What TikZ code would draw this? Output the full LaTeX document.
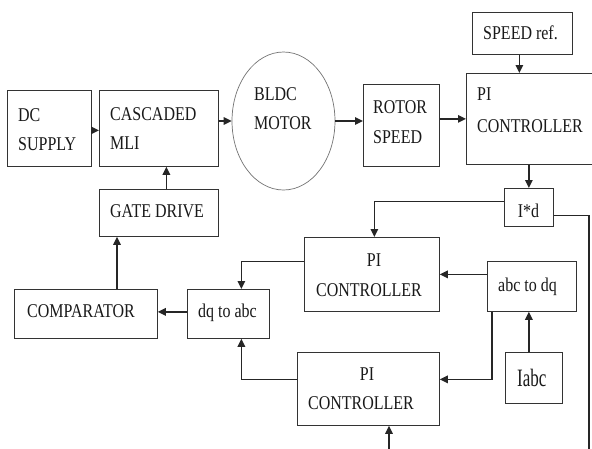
\documentclass[tikz,border=0pt]{standalone}
\usepackage{fontspec}
\setmainfont[FakeStretch=0.82]{Liberation Serif}
\newfontfamily\iabcfont[FakeStretch=0.68]{Liberation Serif}
\usetikzlibrary{arrows.meta,calc,shapes.geometric}
\begin{document}
\begin{tikzpicture}[x=1pt,y=-1pt,
  box/.style={draw=black!80,line width=0.8pt,anchor=north west,inner sep=0pt,fill=none},
  txt/.style={anchor=base west,inner sep=0pt,text=black!90,font=\fontsize{19.5}{24}\selectfont},
  ctxt/.style={anchor=base,inner sep=0pt,text=black!90,font=\fontsize{19.5}{24}\selectfont},
  arr/.style={draw=black!85,line width=1.3pt,-{Triangle[length=8pt,width=7.5pt]}},
  wire/.style={draw=black!85,line width=1.3pt}]
\useasboundingbox (0,0) rectangle (592,448);
\fill[white] (0,0) rectangle (592,448);
% boxes
\node[box,minimum width=84pt,minimum height=76pt] (dc) at (7,90) {};
\node[box,minimum width=119pt,minimum height=76pt] (mli) at (99,90) {};
\node[box,minimum width=119pt,minimum height=47pt] (gate) at (99,189) {};
\node[box,minimum width=143pt,minimum height=49pt] (comp) at (14,289) {};
\node[box,minimum width=82pt,minimum height=49pt] (dq) at (187,289) {};
\node[box,minimum width=135pt,minimum height=74pt] (pi2) at (304,237) {};
\node[box,minimum width=142pt,minimum height=73pt] (pi3) at (297,352) {};
\node[box,minimum width=89pt,minimum height=50pt] (abc) at (487,261) {};
\node[box,minimum width=57pt,minimum height=51pt] (iabc) at (505,352) {};
\node[box,minimum width=76pt,minimum height=82pt] (rotor) at (363,84) {};
\node[box,minimum width=130pt,minimum height=91pt] (pi1) at (466,73) {};
\node[box,minimum width=100pt,minimum height=42pt] (speed) at (472,12) {};
\node[box,minimum width=49pt,minimum height=38pt] (id) at (504,188) {};
\node[draw=black!55,line width=0.7pt,ellipse,minimum width=103pt,minimum height=138pt,inner sep=0pt] (motor) at (283.5,121) {};
% texts
\node[txt] (t1) at (18,121) {DC};
\node[txt] (t2) at (18,150) {SUPPLY};
\node[txt] (t3) at (110,120) {CASCADED};
\node[txt] (t4) at (110,149) {MLI};
\node[txt] (t5) at (254,100) {BLDC};
\node[txt] (t6) at (254,129) {MOTOR};
\node[txt] (t7) at (373,113) {ROTOR};
\node[txt] (t8) at (373,143) {SPEED};
\node[txt] (t9) at (477,100) {PI};
\node[txt] (t10) at (477,132) {CONTROLLER};
\node[txt] (t11) at (483,39) {SPEED ref.};
\node[ctxt] (t12) at (528.5,217) {I*d};
\node[ctxt] (t13) at (374,266) {PI};
\node[ctxt] (t14) at (369,296) {CONTROLLER};
\node[ctxt] (t15) at (367,380) {PI};
\node[ctxt] (t16) at (361,409) {CONTROLLER};
\node[txt] (t17) at (498,291) {abc to dq};
\node[txt,font=\iabcfont\fontsize{25}{30}\selectfont] (t18) at (517,386) {Iabc};
\node[txt] (t19) at (27,317) {COMPARATOR};
\node[txt] (t20) at (198,317) {dq to abc};
\node[txt] (t21) at (110,217) {GATE DRIVE};
% free ends
\coordinate (br) at (589,450);
\coordinate (bp) at (389,450);
% connectors
\draw[arr] ([yshift=-2pt]dc.east) -- ([yshift=-2pt]mli.west);
\draw[arr] (mli.east |- motor.west) -- (motor.west);
\draw[arr] (motor.east) -- (rotor.west |- motor.east);
\draw[arr] (rotor.east |- pi1.west) -- (pi1.west);
\draw[arr] ([xshift=-3pt]speed.south) -- ([xshift=-3pt]speed.south |- pi1.north);
\draw[arr] (id.north |- pi1.south) -- (id.north);
\draw[arr] ([yshift=6pt]id.west) -| ([xshift=2.5pt]pi2.north);
\draw[wire] ([yshift=-8pt]id.east) -| (br);
\draw[arr] (bp) -- (bp |- pi3.south);
\draw[arr] (abc.west |- pi2.east) -- (pi2.east);
\draw[arr] ([xshift=-5pt]iabc.north) -- ([xshift=-5pt]iabc.north |- abc.south);
\draw[arr] ([xshift=5pt]abc.south west) |- ([yshift=9.5pt]pi3.east);
\draw[arr] ([yshift=13pt]pi2.west) -| ([xshift=13pt]dq.north);
\draw[arr] ([yshift=9.5pt]pi3.west) -| ([xshift=13pt]dq.south);
\draw[arr] ([yshift=2pt]dq.west) -- ([yshift=2pt]comp.east);
\draw[arr] ([xshift=18pt]gate.south west |- comp.north) -- ([xshift=18pt]gate.south west);
\draw[arr] ([xshift=7.5pt]gate.north) -- ([xshift=7.5pt]gate.north |- mli.south);
\end{tikzpicture}
\end{document}
